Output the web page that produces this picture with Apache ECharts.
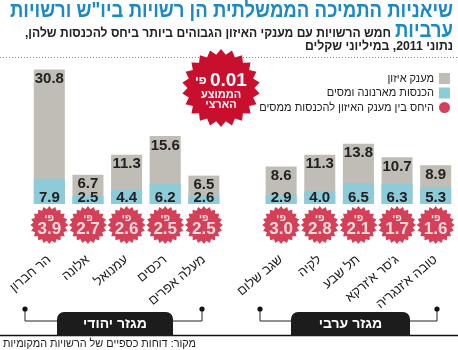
<!DOCTYPE html>
<html>
<head>
<meta charset="utf-8">
<script src="https://cdn.jsdelivr.net/npm/echarts@6/dist/echarts.min.js"></script>
<style>
  html, body { margin: 0; padding: 0; background: #fff; }
  #chart { width: 458px; height: 350px; direction: rtl; }
</style>
</head>
<body>
<div id="chart"></div>
<script>
// רשויות, משמאל לימין כמו בגרף
var jewishNames = ['הר חברון', 'אלונה', 'עמנואל', 'רכסים', 'מעלה אפרים']
var arabNames = ['שגב שלום', 'לקיה', 'תל שבע', "ג'סר א'זרקא", "טובה א'זנגריה"]
// מענק איזון (מיליוני ש"ח)
var jewishGrant = [30.8, 6.7, 11.3, 15.6, 6.5]
var arabGrant = [8.6, 11.3, 13.8, 10.7, 8.9]
// הכנסות מארנונה ומסים
var jewishTax = [7.9, 2.5, 4.4, 6.2, 2.6]
var arabTax = [2.9, 4.0, 6.5, 6.3, 5.3]
// היחס בין מענק האיזון להכנסות ממסים
var jewishRatio = [3.9, 2.7, 2.6, 2.5, 2.5]
var arabRatio = [3.0, 2.8, 2.1, 1.7, 1.6]
var nationalAvg = 0.01

var RED = '#c8102e'
var BLUE_TITLE = '#1a8ac4'
var GRAY = '#bfbdb5'
var LIGHT_BLUE = '#8dcbd9'
var FONT = '"Liberation Sans", "DejaVu Sans", sans-serif'

// קטגוריה ריקה בין שני המגזרים
var categories = jewishNames.concat([''], arabNames)
var grant = jewishGrant.concat(['-'], arabGrant)
var tax = jewishTax.concat(['-'], arabTax)
var ratio = jewishRatio.concat(['-'], arabRatio)

var ratioData = []
ratio.forEach(function (r, i) {
  if (r !== '-') ratioData.push([categories[i], 0, r])
})

function starPoints (cx, cy, ro, ri, n) {
  var pts = []
  for (var i = 0; i < n * 2; i++) {
    var a = Math.PI * i / n - Math.PI / 2
    var r = i % 2 ? ri : ro
    pts.push([cx + r * Math.cos(a), cy + r * Math.sin(a)])
  }
  return pts
}
var starPath = 'path://M' + starPoints(50, 50, 50, 42, 20).map(function (p) {
  return p[0].toFixed(2) + ',' + p[1].toFixed(2)
}).join('L') + 'Z'

// הגופן המקורי צר יותר, אז מכווצים לרוחב שנמדד בתמונה
var measureCtx = document.createElement('canvas').getContext('2d')
function fitScale (text, font, width) {
  measureCtx.font = font
  return width / measureCtx.measureText(text).width
}

var chart = echarts.init(document.getElementById('chart'))

var names = {
  grant: 'מענק איזון',
  tax: 'הכנסות מארנונה ומסים',
  ratio: 'היחס בין מענק האיזון להכנסות ממסים'
}

function fitText (text, font, fill, x, y, width) {
  return { type: 'text', x: x, y: y, scaleX: fitScale(text, font, width),
    style: { text: text, font: font, fill: fill, align: 'right', verticalAlign: 'middle' } }
}

function bracket (x1, x2, bx1, bx2, label) {
  return [
    { type: 'polyline', shape: { points: [[x1, 309], [x1, 321], [bx1, 321]] }, style: { stroke: '#222', lineWidth: 1, fill: null } },
    { type: 'polyline', shape: { points: [[x2, 309], [x2, 321], [bx2, 321]] }, style: { stroke: '#222', lineWidth: 1, fill: null } },
    { type: 'circle', shape: { cx: x1, cy: 309, r: 2.6 }, style: { fill: '#111' } },
    { type: 'circle', shape: { cx: x2, cy: 309, r: 2.6 }, style: { fill: '#111' } },
    { type: 'rect', shape: { x: bx1, y: 312, width: bx2 - bx1, height: 24, r: [7, 7, 0, 0] }, style: { fill: '#1c1c1c' } },
    { type: 'text', x: (bx1 + bx2) / 2, y: 324, style: { text: label, font: 'bold 14px ' + FONT, fill: '#fff', align: 'center', verticalAlign: 'middle' } }
  ]
}

var titleFont = 'bold 22px ' + FONT
var subFont = 'bold 13px ' + FONT
var graphics = [
  fitText('שיאניות התמיכה הממשלתית הן רשויות ביו"ש ורשויות', titleFont, BLUE_TITLE, 453, 11, 443),
  fitText('ערביות', titleFont, BLUE_TITLE, 453, 31, 58),
  fitText('חמש הרשויות עם מענקי האיזון הגבוהים ביותר ביחס להכנסות שלהן,', subFont, '#222', 391, 33, 366),
  fitText('נתוני 2011, במיליוני שקלים', subFont, '#222', 453, 46.5, 148),
  { type: 'line', shape: { x1: 0, y1: 57.5, x2: 458, y2: 57.5 }, style: { stroke: '#888', lineWidth: 1, lineDash: [1, 2] } },
  { type: 'polygon', shape: { points: starPoints(221, 88, 39, 33.5, 22) }, style: { fill: RED } },
  { type: 'text', x: 221, y: 81, style: { text: '{s|פי} {n|' + nationalAvg.toFixed(2) + '}', align: 'center', verticalAlign: 'middle',
      rich: { s: { font: 'bold 12px ' + FONT, fill: '#fff' }, n: { font: 'bold 19px ' + FONT, fill: '#fff' } } } },
  { type: 'text', x: 221, y: 100, style: { text: 'הממוצע\nהארצי', font: 'bold 11px ' + FONT, fill: '#fff', align: 'center', verticalAlign: 'middle', lineHeight: 10 } },
  { type: 'line', shape: { x1: 0, y1: 335.5, x2: 458, y2: 335.5 }, style: { stroke: '#111', lineWidth: 1.5 } },
  fitText('מקור: דוחות כספיים של הרשויות המקומיות', '11px ' + FONT, '#222', 196, 344, 193)
].concat(bracket(25, 202, 57, 173, 'מגזר יהודי'), bracket(260, 437, 291, 410, 'מגזר ערבי'))

var option = {
  animation: false,
  textStyle: { fontFamily: FONT },
  grid: { left: 30, right: 3, top: 60, bottom: 146 },
  legend: {
    orient: 'vertical',
    right: 3,
    top: 68,
    align: 'right',
    itemWidth: 11,
    itemHeight: 11,
    itemGap: 3.5,
    textStyle: { fontSize: 11, color: '#222', fontFamily: FONT },
    data: [
      { name: names.grant, icon: 'rect' },
      { name: names.tax, icon: 'rect' },
      { name: names.ratio, icon: 'circle', itemStyle: { color: RED } }
    ]
  },
  xAxis: {
    type: 'category',
    data: categories,
    axisLine: { show: false },
    axisTick: { show: false },
    axisLabel: { interval: 0, rotate: 40, margin: 54, fontSize: 13, color: '#222', fontFamily: FONT }
  },
  yAxis: [
    { type: 'value', min: 0, max: 33, show: false },
    { type: 'value', min: 0, max: 45, show: false }
  ],
  series: [
    {
      name: names.grant,
      type: 'bar',
      yAxisIndex: 0,
      barWidth: 31,
      barGap: '-100%',
      itemStyle: { color: GRAY },
      label: { show: true, position: 'insideTop', distance: 3, color: '#222', fontWeight: 'bold', fontSize: 15, lineHeight: 13,
        formatter: function (p) { return p.value.toFixed(1) } },
      data: grant
    },
    {
      name: names.tax,
      type: 'bar',
      yAxisIndex: 1,
      barWidth: 31,
      barGap: '-100%',
      itemStyle: { color: LIGHT_BLUE },
      label: { show: true, position: 'insideBottom', distance: 0, color: '#222', fontWeight: 'bold', fontSize: 15, lineHeight: 13,
        formatter: function (p) { return p.value.toFixed(1) } },
      data: tax
    },
    {
      name: names.ratio,
      type: 'scatter',
      yAxisIndex: 0,
      clip: false,
      symbol: starPath,
      symbolSize: 38,
      symbolOffset: [0, 21],
      itemStyle: { color: RED },
      encode: { x: 0, y: 1 },
      label: {
        show: true,
        position: 'inside',
        formatter: function (p) { return '{s|פי}\n{n|' + p.value[2].toFixed(1) + '}' },
        rich: {
          s: { fontSize: 10, fontWeight: 'bold', color: '#fff', lineHeight: 9, align: 'center' },
          n: { fontSize: 17, fontWeight: 'bold', color: '#fff', lineHeight: 13, align: 'center' }
        }
      },
      data: ratioData
    }
  ],
  graphic: graphics
}
chart.setOption(option)
</script>
</body>
</html>
